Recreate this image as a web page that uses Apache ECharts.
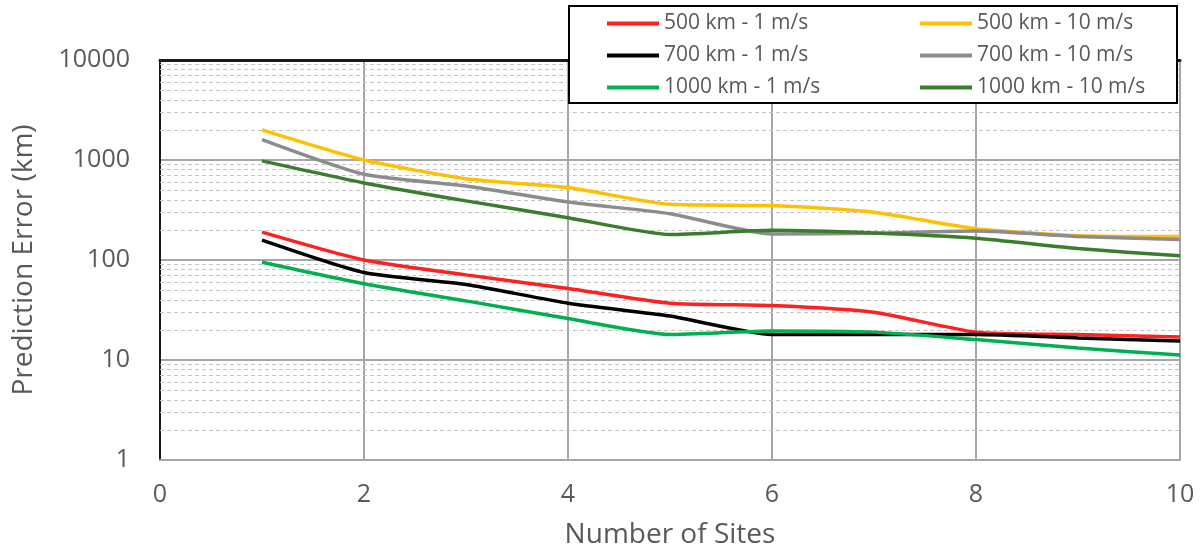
<!DOCTYPE html>
<html>
<head>
<meta charset="utf-8">
<script src="https://cdn.jsdelivr.net/npm/echarts@6/dist/echarts.min.js"></script>
<style>
  html, body { margin: 0; padding: 0; background: #fff; }
  #chart { width: 1201px; height: 554px; }
</style>
</head>
<body>
<div id="chart"></div>
<script>
// Number of observing sites
const sites = [1, 2, 3, 4, 5, 6, 7, 8, 9, 10];

// Prediction error (km) per configuration
const err500km1ms   = [190, 100, 71, 52, 37, 35, 30, 19, 18, 17];
const err700km1ms   = [158, 75, 57, 37, 27.5, 18, 18, 18, 16.6, 15.5];
const err1000km1ms  = [95, 58, 39, 26, 18, 19.5, 19, 16, 13.2, 11.2];
const err500km10ms  = [2000, 1000, 650, 530, 360, 350, 300, 205, 175, 172];
const err700km10ms  = [1600, 720, 550, 380, 290, 182, 185, 195, 172, 160];
const err1000km10ms = [980, 590, 390, 265, 180, 198, 186, 165, 130, 110];

const seriesNames = [
  '500 km - 1 m/s', '500 km - 10 m/s',
  '700 km - 1 m/s', '700 km - 10 m/s',
  '1000 km - 1 m/s', '1000 km - 10 m/s'
];
const seriesValues = [err500km1ms, err500km10ms, err700km1ms, err700km10ms, err1000km1ms, err1000km10ms];
const seriesColors = ['#FF2020', '#FFC000', '#000000', '#8C8C8C', '#00B050', '#3A7D2C'];

// Ticks of both axes
const xTicks = [0, 2, 4, 6, 8, 10];
const yDecades = [1, 10, 100, 1000, 10000];

// Minor grid values: 2..9 within each decade
const minorGrid = [];
for (let d = 0; d < yDecades.length - 1; d++) {
  for (let m = 2; m <= 9; m++) minorGrid.push(m * yDecades[d]);
}

const FONT = '"Open Sans", sans-serif';
const TXT = '#595959';

const series = seriesNames.map((name, i) => ({
  name: name,
  type: 'line',
  data: sites.map((x, k) => [x, seriesValues[i][k]]),
  smooth: 0.2,
  symbol: 'none',
  lineStyle: { color: seriesColors[i], width: 3.5 },
  itemStyle: { color: seriesColors[i] },
  z: 2 + i * 0.01
}));

// minor dashed grid lines drawn through the y scale
series[0].markLine = {
  silent: true,
  symbol: 'none',
  z: 1,
  label: { show: false },
  lineStyle: { color: '#c4c4c4', type: [4, 3], width: 1 },
  emphasis: { disabled: true },
  data: minorGrid.map(v => ({ yAxis: v }))
};

const legendCommon = {
  orient: 'vertical',
  top: 13,
  padding: 0,
  itemGap: 11,
  itemWidth: 52,
  itemHeight: 4,
  icon: 'rect',
  z: 10,
  selectedMode: false,
  textStyle: { fontFamily: FONT, fontSize: 21, color: TXT, padding: [0, 0, 0, 0] }
};

const chart = echarts.init(document.getElementById('chart'), null, { renderer: 'canvas' });
chart.setOption({
  animation: false,
  backgroundColor: '#fff',
  grid: { left: 160, right: 21, top: 60, bottom: 92 },
  legend: [
    Object.assign({}, legendCommon, { left: 607, data: [seriesNames[0], seriesNames[2], seriesNames[4]] }),
    Object.assign({}, legendCommon, { left: 920, data: [seriesNames[1], seriesNames[3], seriesNames[5]] })
  ],
  graphic: [{
    type: 'rect',
    z: 5,
    left: 568, top: 5,
    shape: { width: 608, height: 97 },
    style: { fill: '#fff', stroke: '#000', lineWidth: 2 }
  }],
  xAxis: [{
    type: 'value',
    min: xTicks[0], max: xTicks[xTicks.length - 1], interval: 2,
    name: 'Number of Sites',
    nameLocation: 'middle',
    nameGap: 61,
    nameTextStyle: { fontFamily: FONT, fontSize: 28, color: TXT },
    axisLine: { show: true, lineStyle: { color: '#a6a6a6', width: 2 } },
    axisTick: { show: false },
    axisLabel: { fontFamily: FONT, fontSize: 25, color: TXT, margin: 22 },
    splitLine: { show: true, lineStyle: { color: '#a6a6a6', width: 2 } }
  }, {
    type: 'value',
    position: 'top',
    min: xTicks[0], max: xTicks[xTicks.length - 1],
    axisLine: { show: true, lineStyle: { color: '#1a1a1a', width: 3 } },
    axisTick: { show: false },
    axisLabel: { show: false },
    splitLine: { show: false }
  }],
  yAxis: [{
    type: 'log',
    logBase: 10,
    min: yDecades[0], max: yDecades[yDecades.length - 1],
    name: 'Prediction Error (km)',
    nameLocation: 'middle',
    nameGap: 122,
    nameTextStyle: { fontFamily: FONT, fontSize: 28, color: TXT },
    axisLine: { show: true, lineStyle: { color: '#a6a6a6', width: 2 } },
    axisTick: { show: false },
    axisLabel: { fontFamily: FONT, fontSize: 25, color: TXT, margin: 30, formatter: v => String(v) },
    splitLine: { show: true, lineStyle: { color: '#a6a6a6', width: 2 } }
  }, {
    type: 'log',
    logBase: 10,
    position: 'right',
    min: yDecades[0], max: yDecades[yDecades.length - 1],
    axisLine: { show: true, lineStyle: { color: '#1a1a1a', width: 2 } },
    axisTick: { show: false },
    axisLabel: { show: false },
    splitLine: { show: false }
  }],
  series: series
});
</script>
</body>
</html>
